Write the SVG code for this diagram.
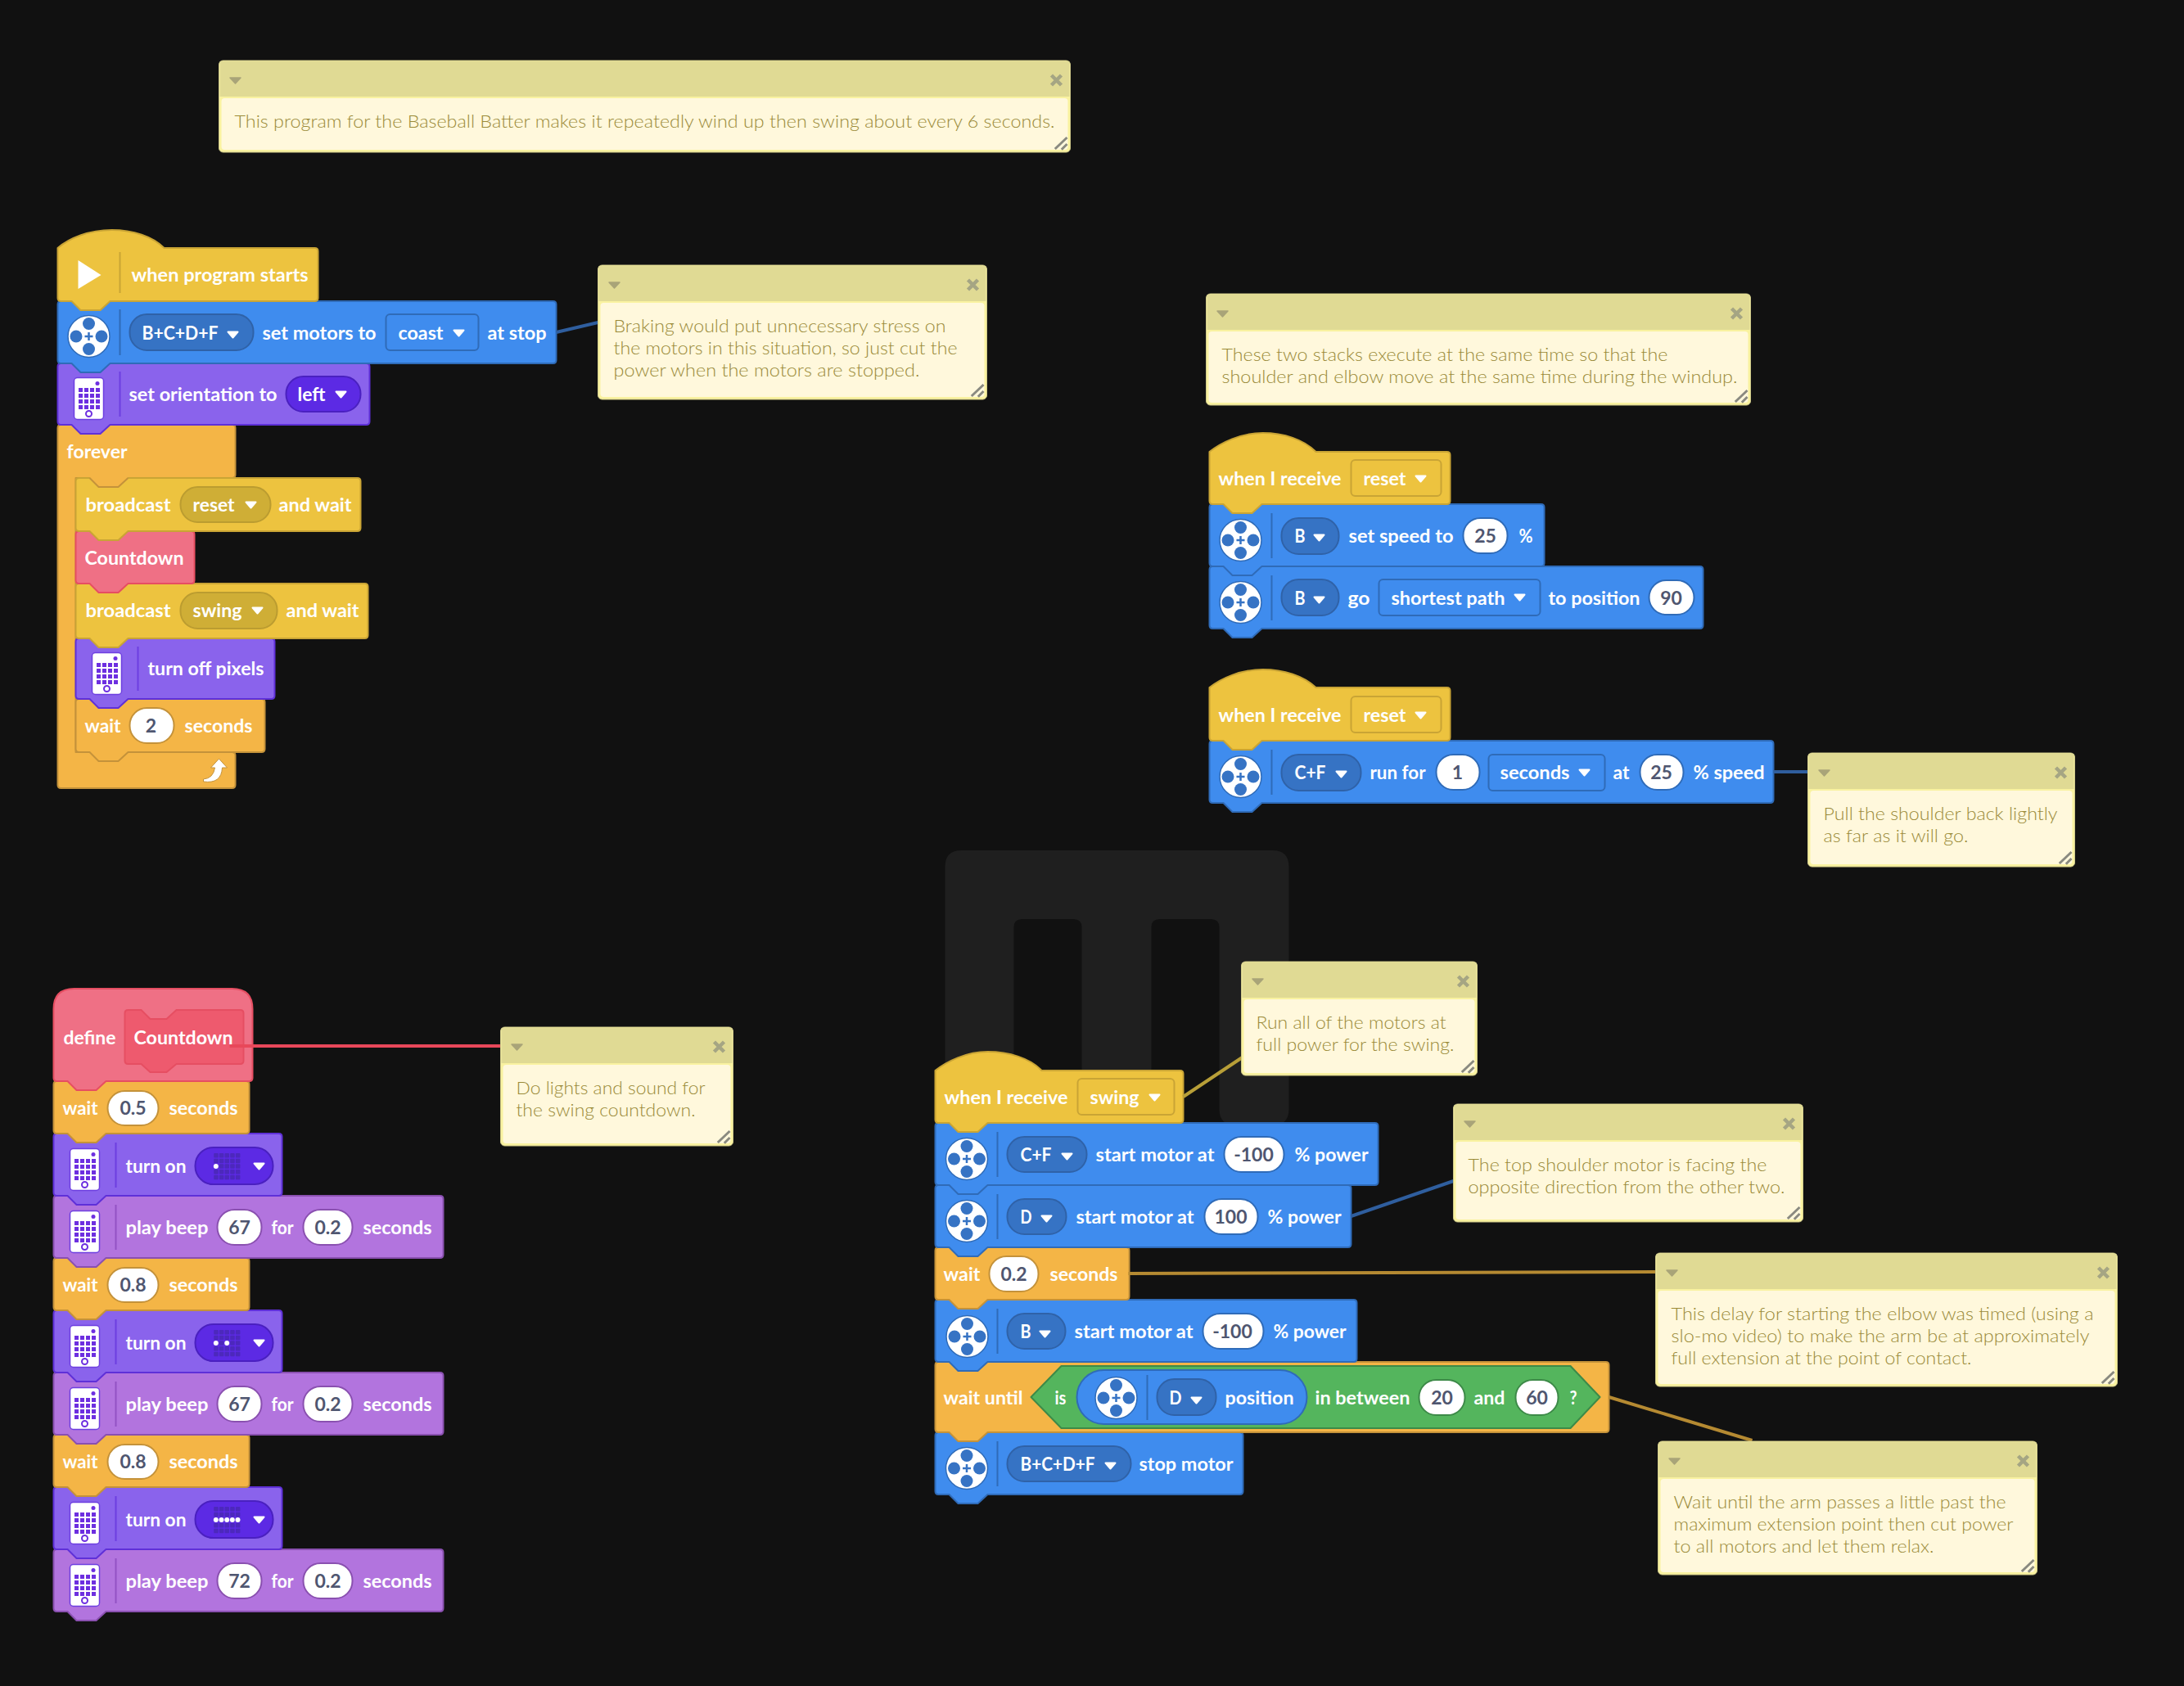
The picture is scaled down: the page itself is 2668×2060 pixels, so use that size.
<svg xmlns="http://www.w3.org/2000/svg" width="2668" height="2060" viewBox="0 0 2668 2060">
<style>
text{font-family:Lato,"Noto Sans",sans-serif}
.t{font-size:23.5px;font-weight:700;fill:#fff}
.v{font-size:23px;font-weight:700;fill:#4f5670;text-anchor:middle}
.n{font-size:22px;font-weight:300;fill:#9a8a38}
.y,.o,.b,.m,.l,.r{stroke-width:2;stroke-linejoin:round}
.y{fill:#edc33f;stroke:#c9a435}
.o{fill:#f4b546;stroke:#c4923a}
.b{fill:#3f8cee;stroke:#2f6bb8}
.m{fill:#8a63ec;stroke:#5f30d8}
.l{fill:#b274de;stroke:#8a50b0}
.r{fill:#ef7085;stroke:#e64e62}
.pb{fill:#3673c4;stroke:#2f62a8;stroke-width:2}
.ddb{fill:#3f8cee;stroke:#2f6bb8;stroke-width:2}
.py{fill:#cfae36;stroke:#bb9c30;stroke-width:2}
.ddy{fill:#edc33f;stroke:#c9a435;stroke-width:2}
.pm{fill:#5c2ae4;stroke:#4a20c0;stroke-width:2}
.w{fill:#fff;stroke-width:2}
.wo{stroke:#c4923a}.wb{stroke:#2f6bb8}.wl{stroke:#8a50b0}.wg{stroke:#3d8a48}.wy{stroke:#c9a435}
.dv{stroke-width:2;fill:none}
.dvb{stroke:#2f6bb8}.dvm{stroke:#6d3fe0}.dvl{stroke:#9252c4}.dvy{stroke:#c9a435}
.cn{fill:none;stroke-width:4}
.nb{fill:#f9f2a0;stroke:#cfc98a;stroke-width:1}
.nh{fill:#e0da94}
.nc{fill:#fff8dc}
</style>
<defs>
<path id="c" d="M-6 -3.5H6L0 3.5z" fill="#fff" stroke="#fff" stroke-width="2" stroke-linejoin="round"/>
<g id="motor"><circle r="25.5" fill="#fff" stroke="#2f6bb8" stroke-width="1.5"/><g fill="#3673c4"><circle cy="-15.5" r="7.5"/><circle cy="15.5" r="7.5"/><circle cx="-15.5" r="7.5"/><circle cx="15.5" r="7.5"/></g><path d="M-5 0H5M0 -5V5" stroke="#3673c4" stroke-width="2.5"/></g>
<g id="phone"><rect x="-18" y="-25.5" width="36" height="51" rx="4" fill="#fff" stroke="#6d3fe0" stroke-width="1.5"/><g fill="#6d2fe0"><rect x="-12.5" y="-13" width="5" height="5"/><rect x="-5.5" y="-13" width="5" height="5"/><rect x="1.5" y="-13" width="5" height="5"/><rect x="8.500" y="-13" width="5" height="5"/><rect x="-12.5" y="-6" width="5" height="5"/><rect x="-5.5" y="-6" width="5" height="5"/><rect x="1.5" y="-6" width="5" height="5"/><rect x="8.500" y="-6" width="5" height="5"/><rect x="-12.5" y="1" width="5" height="5"/><rect x="-5.5" y="1" width="5" height="5"/><rect x="1.5" y="1" width="5" height="5"/><rect x="8.500" y="1" width="5" height="5"/><rect x="-12.5" y="8" width="5" height="5"/><rect x="-5.5" y="8" width="5" height="5"/><rect x="1.5" y="8" width="5" height="5"/><rect x="8.500" y="8" width="5" height="5"/><circle cx="10.500" cy="-18.500" r="2.5"/></g><circle cy="18.500" r="3.500" fill="none" stroke="#6d2fe0" stroke-width="2"/></g>
<g id="mx" fill="#4c28bc"><rect x="-16" y="-16" width="5.500" height="5.500" rx="1"/><rect x="-9.300" y="-16" width="5.500" height="5.500" rx="1"/><rect x="-2.700" y="-16" width="5.500" height="5.500" rx="1"/><rect x="4" y="-16" width="5.500" height="5.500" rx="1"/><rect x="10.700" y="-16" width="5.500" height="5.500" rx="1"/><rect x="-16" y="-9.300" width="5.500" height="5.500" rx="1"/><rect x="-9.300" y="-9.300" width="5.500" height="5.500" rx="1"/><rect x="-2.700" y="-9.300" width="5.500" height="5.500" rx="1"/><rect x="4" y="-9.300" width="5.500" height="5.500" rx="1"/><rect x="10.700" y="-9.300" width="5.500" height="5.500" rx="1"/><rect x="-16" y="-2.700" width="5.500" height="5.500" rx="1"/><rect x="-9.300" y="-2.700" width="5.500" height="5.500" rx="1"/><rect x="-2.700" y="-2.700" width="5.500" height="5.500" rx="1"/><rect x="4" y="-2.700" width="5.500" height="5.500" rx="1"/><rect x="10.700" y="-2.700" width="5.500" height="5.500" rx="1"/><rect x="-16" y="4" width="5.500" height="5.500" rx="1"/><rect x="-9.300" y="4" width="5.500" height="5.500" rx="1"/><rect x="-2.700" y="4" width="5.500" height="5.500" rx="1"/><rect x="4" y="4" width="5.500" height="5.500" rx="1"/><rect x="10.700" y="4" width="5.500" height="5.500" rx="1"/><rect x="-16" y="10.700" width="5.500" height="5.500" rx="1"/><rect x="-9.300" y="10.700" width="5.500" height="5.500" rx="1"/><rect x="-2.700" y="10.700" width="5.500" height="5.500" rx="1"/><rect x="4" y="10.700" width="5.500" height="5.500" rx="1"/><rect x="10.700" y="10.700" width="5.500" height="5.500" rx="1"/></g>
<path id="nca" d="M-6.500 -3H6.500L0 4z" fill="#a9a478" stroke="#a9a478" stroke-width="1.500" stroke-linejoin="round"/>
<path id="nx" d="M-6 -6L6 6M6 -6L-6 6" stroke="#a5a583" stroke-width="4.500" fill="none"/>
<path id="nr" d="M-18.700 -4L-4 -18M-10.700 -3.300L-4 -10" stroke="#8a8a80" stroke-width="3" fill="none"/>
</defs>
<rect width="2668" height="2060" fill="#111"/>
<g transform="translate(0.5 1)">
<path id="ghost" fill="#1f1f1f" d="M1174 1038H1554q20 0 20 20V1354q0 20-20 20H1509q-20 0-20-20V1132q0-10-10-10H1416q-10 0-10 10V1354q0 20-20 20H1341q-20 0-20-20V1132q0-10-10-10H1248q-10 0-10 10V1354q0 20-20 20H1174q-20 0-20-20V1058q0-20 20-20z"/>

<g id="stack-start">
<g id="forever"><path class="o" d="M74 518H283q4 0 4 4V579q0 4-4 4H156l-12 11h-24l-11-11H92V918H283q4 0 4 4V958q0 4-4 4H74q-4 0-4-4V522q0-4 4-4z"/>
<path d="M248 951q12-1 14-14h-5l10-11 10 11h-6q-1 20-23 17z" fill="#fff" stroke="#c4923a" stroke-width="1"/>
<text class="t" x="81" y="559" textLength="74" lengthAdjust="spacingAndGlyphs">forever</text></g>
<g id="wait-2"><path class="o" d="M96 853H319q4 0 4 4V914q0 4-4 4H156l-12 11h-24l-11-11H96q-4 0-4-4V857q0-4 4-4z"/>
<text class="t" x="103" y="894" textLength="44" lengthAdjust="spacingAndGlyphs">wait</text><rect class="w wo" x="158" y="864" width="54" height="43" rx="21"/><text class="v" x="184" y="894">2</text><text class="t" x="225" y="894" textLength="83" lengthAdjust="spacingAndGlyphs">seconds</text></g>
<g id="turn-off"><path class="m" d="M96 779H331q4 0 4 4V849q0 4-4 4H156l-12 11h-24l-11-11H96q-4 0-4-4V783q0-4 4-4z"/>
<use href="#phone" x="130" y="822"/><path class="dv dvm" d="M168 789V843"/><text class="t" x="180" y="824" textLength="142" lengthAdjust="spacingAndGlyphs">turn off pixels</text></g>
<g id="broadcast-swing"><path class="y" d="M96 712H445q4 0 4 4V775q0 4-4 4H156l-12 11h-24l-11-11H96q-4 0-4-4V716q0-4 4-4z"/>
<text class="t" x="104" y="753" textLength="104" lengthAdjust="spacingAndGlyphs">broadcast</text><rect class="py" x="220" y="723" width="118" height="44" rx="21"/><text class="t" x="235" y="753" textLength="60" lengthAdjust="spacingAndGlyphs">swing</text><use href="#c" x="314" y="745"/><text class="t" x="349" y="753" textLength="89" lengthAdjust="spacingAndGlyphs">and wait</text></g>
<g id="countdown-call"><path class="r" d="M96 648H233q4 0 4 4V708q0 4-4 4H156l-12 11h-24l-11-11H96q-4 0-4-4V652q0-4 4-4z"/>
<text class="t" x="103" y="689" textLength="121" lengthAdjust="spacingAndGlyphs">Countdown</text></g>
<g id="broadcast-reset"><path class="y" d="M96 583H436q4 0 4 4V644q0 4-4 4H156l-12 11h-24l-11-11H96q-4 0-4-4V587q0-4 4-4z"/>
<text class="t" x="104" y="624" textLength="104" lengthAdjust="spacingAndGlyphs">broadcast</text><rect class="py" x="220" y="594" width="110" height="43" rx="21"/><text class="t" x="235" y="624" textLength="51" lengthAdjust="spacingAndGlyphs">reset</text><use href="#c" x="306" y="616"/><text class="t" x="340" y="624" textLength="89" lengthAdjust="spacingAndGlyphs">and wait</text></g>
<path d="M109 582h47l-12 12h-24z" fill="#f4b546"/><path d="M109 583l11 11h24l12-11" fill="none" stroke="#c4923a" stroke-width="2"/>
<g id="orientation"><path class="m" d="M74 443H447q4 0 4 4V514q0 4-4 4H134l-12 11h-24l-11-11H74q-4 0-4-4V447q0-4 4-4z"/>
<use href="#phone" x="108" y="486"/><path class="dv dvm" d="M146 453V508"/><text class="t" x="157" y="489" textLength="181" lengthAdjust="spacingAndGlyphs">set orientation to</text><rect class="pm" x="349" y="459" width="91" height="43" rx="21"/><text class="t" x="363" y="489" textLength="34" lengthAdjust="spacingAndGlyphs">left</text><use href="#c" x="416" y="481"/></g>
<g id="set-motors"><path class="b" d="M74 367H675q4 0 4 4V439q0 4-4 4H134l-12 11h-24l-11-11H74q-4 0-4-4V371q0-4 4-4z"/>
<use href="#motor" x="108" y="410"/><path class="dv dvb" d="M146 377V433"/><rect class="pb" x="158" y="383" width="151" height="44" rx="21"/><text class="t" x="173" y="414" textLength="93" lengthAdjust="spacingAndGlyphs">B+C+D+F</text><use href="#c" x="284" y="408"/><text class="t" x="320" y="414" textLength="139" lengthAdjust="spacingAndGlyphs">set motors to</text><rect class="ddb" x="471" y="383" width="113" height="44" rx="5"/><text class="t" x="486" y="414" textLength="55" lengthAdjust="spacingAndGlyphs">coast</text><use href="#c" x="560" y="406"/><text class="t" x="595" y="414" textLength="72" lengthAdjust="spacingAndGlyphs">at stop</text></g>
<g id="program-starts"><path class="y" d="M70 302C84 290 108 280 136 280C162 280 186 288 200 302H384q4 0 4 4V363q0 4-4 4H134l-12 11h-24l-11-11H74q-4 0-4-4z"/>
<path d="M95 317L123 335L95 352z" fill="#fff"/><path class="dv dvy" d="M146 307V357"/><text class="t" x="160" y="343" textLength="216" lengthAdjust="spacingAndGlyphs">when program starts</text></g>
</g>

<g id="stack-define">
<g id="beep-3"><path class="l" d="M69 1892H537q4 0 4 4V1964q0 4-4 4H129l-12 11h-24l-11-11H69q-4 0-4-4V1896q0-4 4-4z"/>
<use href="#phone" x="103" y="1936"/><path class="dv dvl" d="M141 1903V1958"/><text class="t" x="153" y="1939" textLength="101" lengthAdjust="spacingAndGlyphs">play beep</text><rect class="w wl" x="265" y="1909" width="54" height="43" rx="21"/><text class="v" x="292" y="1939">72</text><text class="t" x="331" y="1939" textLength="27" lengthAdjust="spacingAndGlyphs">for</text><rect class="w wl" x="370" y="1909" width="60" height="43" rx="21"/><text class="v" x="400" y="1939">0.2</text><text class="t" x="443" y="1939" textLength="84" lengthAdjust="spacingAndGlyphs">seconds</text></g>
<g id="turn-on-3"><path class="m" d="M69 1816H340q4 0 4 4V1888q0 4-4 4H129l-12 11h-24l-11-11H69q-4 0-4-4V1820q0-4 4-4z"/>
<use href="#phone" x="103" y="1860"/><path class="dv dvm" d="M141 1827V1882"/><text class="t" x="153" y="1864" textLength="74" lengthAdjust="spacingAndGlyphs">turn on</text><rect class="pm" x="238" y="1833" width="95" height="45" rx="22"/><use href="#mx" x="276.700" y="1856"/><g fill="#fff"><circle cx="263.300" cy="1856" r="3"/><circle cx="270" cy="1856" r="3"/><circle cx="276.700" cy="1856" r="3"/><circle cx="283.300" cy="1856" r="3"/><circle cx="290" cy="1856" r="3"/></g><use href="#c" x="316" y="1856"/></g>
<g id="wait-3"><path class="o" d="M69 1752H300q4 0 4 4V1812q0 4-4 4H129l-12 11h-24l-11-11H69q-4 0-4-4V1756q0-4 4-4z"/>
<text class="t" x="76" y="1793" textLength="43" lengthAdjust="spacingAndGlyphs">wait</text><rect class="w wo" x="131" y="1764" width="62" height="42" rx="21"/><text class="v" x="162" y="1793">0.8</text><text class="t" x="206" y="1793" textLength="84" lengthAdjust="spacingAndGlyphs">seconds</text></g>
<g id="beep-2"><path class="l" d="M69 1676H537q4 0 4 4V1748q0 4-4 4H129l-12 11h-24l-11-11H69q-4 0-4-4V1680q0-4 4-4z"/>
<use href="#phone" x="103" y="1720"/><path class="dv dvl" d="M141 1687V1742"/><text class="t" x="153" y="1723" textLength="101" lengthAdjust="spacingAndGlyphs">play beep</text><rect class="w wl" x="265" y="1693" width="54" height="43" rx="21"/><text class="v" x="292" y="1723">67</text><text class="t" x="331" y="1723" textLength="27" lengthAdjust="spacingAndGlyphs">for</text><rect class="w wl" x="370" y="1693" width="60" height="43" rx="21"/><text class="v" x="400" y="1723">0.2</text><text class="t" x="443" y="1723" textLength="84" lengthAdjust="spacingAndGlyphs">seconds</text></g>
<g id="turn-on-2"><path class="m" d="M69 1600H340q4 0 4 4V1672q0 4-4 4H129l-12 11h-24l-11-11H69q-4 0-4-4V1604q0-4 4-4z"/>
<use href="#phone" x="103" y="1644"/><path class="dv dvm" d="M141 1611V1666"/><text class="t" x="153" y="1648" textLength="74" lengthAdjust="spacingAndGlyphs">turn on</text><rect class="pm" x="238" y="1617" width="95" height="45" rx="22"/><use href="#mx" x="276.700" y="1640"/><g fill="#fff"><circle cx="263.300" cy="1640" r="3"/><circle cx="276.700" cy="1640" r="3"/></g><use href="#c" x="316" y="1640"/></g>
<g id="wait-2b"><path class="o" d="M69 1536H300q4 0 4 4V1596q0 4-4 4H129l-12 11h-24l-11-11H69q-4 0-4-4V1540q0-4 4-4z"/>
<text class="t" x="76" y="1577" textLength="43" lengthAdjust="spacingAndGlyphs">wait</text><rect class="w wo" x="131" y="1548" width="62" height="42" rx="21"/><text class="v" x="162" y="1577">0.8</text><text class="t" x="206" y="1577" textLength="84" lengthAdjust="spacingAndGlyphs">seconds</text></g>
<g id="beep-1"><path class="l" d="M69 1460H537q4 0 4 4V1532q0 4-4 4H129l-12 11h-24l-11-11H69q-4 0-4-4V1464q0-4 4-4z"/>
<use href="#phone" x="103" y="1504"/><path class="dv dvl" d="M141 1471V1526"/><text class="t" x="153" y="1507" textLength="101" lengthAdjust="spacingAndGlyphs">play beep</text><rect class="w wl" x="265" y="1477" width="54" height="43" rx="21"/><text class="v" x="292" y="1507">67</text><text class="t" x="331" y="1507" textLength="27" lengthAdjust="spacingAndGlyphs">for</text><rect class="w wl" x="370" y="1477" width="60" height="43" rx="21"/><text class="v" x="400" y="1507">0.2</text><text class="t" x="443" y="1507" textLength="84" lengthAdjust="spacingAndGlyphs">seconds</text></g>
<g id="turn-on-1"><path class="m" d="M69 1384H340q4 0 4 4V1456q0 4-4 4H129l-12 11h-24l-11-11H69q-4 0-4-4V1388q0-4 4-4z"/>
<use href="#phone" x="103" y="1428"/><path class="dv dvm" d="M141 1395V1450"/><text class="t" x="153" y="1432" textLength="74" lengthAdjust="spacingAndGlyphs">turn on</text><rect class="pm" x="238" y="1401" width="95" height="45" rx="22"/><use href="#mx" x="276.700" y="1424"/><circle cx="263.300" cy="1424" r="3" fill="#fff"/><use href="#c" x="316" y="1424"/></g>
<g id="wait-1"><path class="o" d="M69 1320H300q4 0 4 4V1380q0 4-4 4H129l-12 11h-24l-11-11H69q-4 0-4-4V1324q0-4 4-4z"/>
<text class="t" x="76" y="1361" textLength="43" lengthAdjust="spacingAndGlyphs">wait</text><rect class="w wo" x="131" y="1332" width="62" height="42" rx="21"/><text class="v" x="162" y="1361">0.5</text><text class="t" x="206" y="1361" textLength="84" lengthAdjust="spacingAndGlyphs">seconds</text></g>
<g id="define"><path class="r" d="M65 1316V1232Q65 1207 90 1207H283Q308 1207 308 1232V1316q0 4-4 4H129l-12 11h-24l-11-11H69q-4 0-4-4z"/>
<path d="M156 1233H172l11 11h20l12-11H293q4 0 4 4V1295q0 4-4 4H215l-12 10h-20l-11-10H156q-4 0-4-4V1237q0-4 4-4z" fill="#ee5a6e" stroke="#e64e62" stroke-width="2"/>
<text class="t" x="77" y="1275" textLength="64" lengthAdjust="spacingAndGlyphs">define</text><text class="t" x="163" y="1275" textLength="121" lengthAdjust="spacingAndGlyphs">Countdown</text></g>
</g>

<g id="stack-reset-1">
<g id="go-position"><path class="b" d="M1481 691H2076q4 0 4 4V763q0 4-4 4H1541l-12 11h-24l-11-11H1481q-4 0-4-4V695q0-4 4-4z"/>
<use href="#motor" x="1515" y="735"/><path class="dv dvb" d="M1553 702V757"/><rect class="pb" x="1565" y="707" width="70" height="44" rx="21"/><text class="t" x="1581" y="738" textLength="13" lengthAdjust="spacingAndGlyphs">B</text><use href="#c" x="1611" y="732"/><text class="t" x="1646" y="738" textLength="27" lengthAdjust="spacingAndGlyphs">go</text><rect class="ddb" x="1684" y="707" width="197" height="44" rx="5"/><text class="t" x="1699" y="738" textLength="139" lengthAdjust="spacingAndGlyphs">shortest path</text><use href="#c" x="1856" y="729"/><text class="t" x="1891" y="738" textLength="112" lengthAdjust="spacingAndGlyphs">to position</text><rect class="w wb" x="2014" y="708" width="55" height="42" rx="21"/><text class="v" x="2041" y="738">90</text></g>
<g id="set-speed"><path class="b" d="M1481 615H1882q4 0 4 4V687q0 4-4 4H1541l-12 11h-24l-11-11H1481q-4 0-4-4V619q0-4 4-4z"/>
<use href="#motor" x="1515" y="659"/><path class="dv dvb" d="M1553 626V681"/><rect class="pb" x="1565" y="632" width="70" height="44" rx="21"/><text class="t" x="1581" y="662" textLength="13" lengthAdjust="spacingAndGlyphs">B</text><use href="#c" x="1611" y="656"/><text class="t" x="1647" y="662" textLength="128" lengthAdjust="spacingAndGlyphs">set speed to</text><rect class="w wb" x="1787" y="632" width="54" height="43" rx="21"/><text class="v" x="1814" y="662">25</text><text class="t" x="1855" y="662" textLength="17" lengthAdjust="spacingAndGlyphs">%</text></g>
<g id="recv-reset-1"><path class="y" d="M1477 551C1491 540 1515 528 1542 528C1568 528 1592 536 1607 551H1767q4 0 4 4V611q0 4-4 4H1541l-12 11h-24l-11-11H1481q-4 0-4-4z"/>
<text class="t" x="1488" y="592" textLength="150" lengthAdjust="spacingAndGlyphs">when I receive</text><rect class="ddy" x="1650" y="561" width="110" height="44" rx="5"/><text class="t" x="1665" y="592" textLength="52" lengthAdjust="spacingAndGlyphs">reset</text><use href="#c" x="1735" y="584"/></g>
</g>

<g id="stack-reset-2">
<g id="run-for"><path class="b" d="M1481 904H2162q4 0 4 4V976q0 4-4 4H1541l-12 11h-24l-11-11H1481q-4 0-4-4V908q0-4 4-4z"/>
<use href="#motor" x="1515" y="948"/><path class="dv dvb" d="M1553 915V970"/><rect class="pb" x="1565" y="921" width="97" height="44" rx="21"/><text class="t" x="1581" y="951" textLength="38" lengthAdjust="spacingAndGlyphs">C+F</text><use href="#c" x="1638" y="945"/><text class="t" x="1673" y="951" textLength="68" lengthAdjust="spacingAndGlyphs">run for</text><rect class="w wb" x="1754" y="921" width="53" height="43" rx="21"/><text class="v" x="1780" y="951">1</text><rect class="ddb" x="1818" y="921" width="142" height="44" rx="5"/><text class="t" x="1832" y="951" textLength="85" lengthAdjust="spacingAndGlyphs">seconds</text><use href="#c" x="1935" y="943"/><text class="t" x="1970" y="951" textLength="20" lengthAdjust="spacingAndGlyphs">at</text><rect class="w wb" x="2003" y="921" width="53" height="43" rx="21"/><text class="v" x="2029" y="951">25</text><text class="t" x="2068" y="951" textLength="87" lengthAdjust="spacingAndGlyphs">% speed</text></g>
<g id="recv-reset-2"><path class="y" d="M1477 839C1491 828 1515 817 1542 817C1568 817 1592 825 1607 839H1767q4 0 4 4V900q0 4-4 4H1541l-12 11h-24l-11-11H1481q-4 0-4-4z"/>
<text class="t" x="1488" y="881" textLength="150" lengthAdjust="spacingAndGlyphs">when I receive</text><rect class="ddy" x="1650" y="850" width="110" height="44" rx="5"/><text class="t" x="1665" y="881" textLength="52" lengthAdjust="spacingAndGlyphs">reset</text><use href="#c" x="1735" y="873"/></g>
</g>

<g id="stack-swing">
<g id="stop-motor"><path class="b" d="M1146 1749H1514q4 0 4 4V1821q0 4-4 4H1206l-12 11h-24l-11-11H1146q-4 0-4-4V1753q0-4 4-4z"/>
<use href="#motor" x="1180.500" y="1793"/><path class="dv dvb" d="M1218 1760V1815"/><rect class="pb" x="1230" y="1766" width="151" height="43" rx="21"/><text class="t" x="1246" y="1796" textLength="91" lengthAdjust="spacingAndGlyphs">B+C+D+F</text><use href="#c" x="1356" y="1790"/><text class="t" x="1391" y="1796" textLength="115" lengthAdjust="spacingAndGlyphs">stop motor</text></g>
<g id="wait-until"><path class="o" d="M1146 1663H1961q4 0 4 4V1745q0 4-4 4H1206l-12 11h-24l-11-11H1146q-4 0-4-4V1667q0-4 4-4z"/>
<path d="M1296 1668H1918L1954 1706L1918 1744H1296L1259 1706z" fill="#54b55d" stroke="#3d8a48" stroke-width="2" stroke-linejoin="round"/>
<rect x="1315" y="1673" width="281" height="66" rx="33" fill="#3f8cee" stroke="#2f6bb8" stroke-width="2"/>
<use href="#motor" x="1363" y="1707"/><path class="dv dvb" d="M1401 1679V1734"/><rect class="pb" x="1413" y="1684" width="72" height="44" rx="21"/>
<text class="t" x="1152" y="1715" textLength="97" lengthAdjust="spacingAndGlyphs">wait until</text><text class="t" x="1288" y="1715" textLength="14" lengthAdjust="spacingAndGlyphs">is</text><text class="t" x="1428" y="1715" textLength="15" lengthAdjust="spacingAndGlyphs">D</text><use href="#c" x="1461" y="1710"/><text class="t" x="1496" y="1715" textLength="84" lengthAdjust="spacingAndGlyphs">position</text><text class="t" x="1606" y="1715" textLength="116" lengthAdjust="spacingAndGlyphs">in between</text><rect class="w wg" x="1733" y="1685" width="56" height="43" rx="21"/><text class="v" x="1761" y="1715">20</text><text class="t" x="1800" y="1715" textLength="38" lengthAdjust="spacingAndGlyphs">and</text><rect class="w wg" x="1851" y="1685" width="52" height="43" rx="21"/><text class="v" x="1877" y="1715">60</text><text class="t" x="1917" y="1715" textLength="9" lengthAdjust="spacingAndGlyphs">?</text></g>
<g id="start-b"><path class="b" d="M1146 1587H1653q4 0 4 4V1659q0 4-4 4H1206l-12 11h-24l-11-11H1146q-4 0-4-4V1591q0-4 4-4z"/>
<use href="#motor" x="1181" y="1632"/><path class="dv dvb" d="M1218 1598V1653"/><rect class="pb" x="1230" y="1604" width="71" height="43" rx="21"/><text class="t" x="1246" y="1634" textLength="13" lengthAdjust="spacingAndGlyphs">B</text><use href="#c" x="1276" y="1629"/><text class="t" x="1312" y="1634" textLength="145" lengthAdjust="spacingAndGlyphs">start motor at</text><rect class="w wb" x="1469" y="1604" width="74" height="43" rx="21"/><text class="v" x="1505" y="1634">-100</text><text class="t" x="1555" y="1634" textLength="89" lengthAdjust="spacingAndGlyphs">% power</text></g>
<g id="wait-02"><path class="o" d="M1146 1523H1375q4 0 4 4V1583q0 4-4 4H1206l-12 11h-24l-11-11H1146q-4 0-4-4V1527q0-4 4-4z"/>
<text class="t" x="1152" y="1564" textLength="45" lengthAdjust="spacingAndGlyphs">wait</text><rect class="w wo" x="1208" y="1534" width="60" height="43" rx="21"/><text class="v" x="1238" y="1564">0.2</text><text class="t" x="1282" y="1564" textLength="83" lengthAdjust="spacingAndGlyphs">seconds</text></g>
<g id="start-d"><path class="b" d="M1146 1447H1646q4 0 4 4V1519q0 4-4 4H1206l-12 11h-24l-11-11H1146q-4 0-4-4V1451q0-4 4-4z"/>
<use href="#motor" x="1180.500" y="1491"/><path class="dv dvb" d="M1218 1458V1513"/><rect class="pb" x="1230" y="1464" width="72" height="43" rx="21"/><text class="t" x="1246" y="1494" textLength="14" lengthAdjust="spacingAndGlyphs">D</text><use href="#c" x="1278" y="1488"/><text class="t" x="1314" y="1494" textLength="144" lengthAdjust="spacingAndGlyphs">start motor at</text><rect class="w wb" x="1471" y="1464" width="65" height="43" rx="21"/><text class="v" x="1503" y="1494">100</text><text class="t" x="1548" y="1494" textLength="90" lengthAdjust="spacingAndGlyphs">% power</text></g>
<g id="start-cf"><path class="b" d="M1146 1371H1679q4 0 4 4V1443q0 4-4 4H1206l-12 11h-24l-11-11H1146q-4 0-4-4V1375q0-4 4-4z"/>
<use href="#motor" x="1180.500" y="1415"/><path class="dv dvb" d="M1218 1382V1437"/><rect class="pb" x="1230" y="1388" width="97" height="43" rx="21"/><text class="t" x="1246" y="1418" textLength="38" lengthAdjust="spacingAndGlyphs">C+F</text><use href="#c" x="1303" y="1412"/><text class="t" x="1338" y="1418" textLength="145" lengthAdjust="spacingAndGlyphs">start motor at</text><rect class="w wb" x="1495" y="1388" width="73" height="43" rx="21"/><text class="v" x="1531" y="1418">-100</text><text class="t" x="1581" y="1418" textLength="90" lengthAdjust="spacingAndGlyphs">% power</text></g>
<g id="recv-swing"><path class="y" d="M1142 1307C1156 1296 1180 1284 1206 1284C1232 1284 1258 1292 1272 1307H1441q4 0 4 4V1367q0 4-4 4H1206l-12 11h-24l-11-11H1146q-4 0-4-4z"/>
<text class="t" x="1153" y="1348" textLength="151" lengthAdjust="spacingAndGlyphs">when I receive</text><rect class="ddy" x="1316" y="1317" width="118" height="44" rx="5"/><text class="t" x="1331" y="1348" textLength="60" lengthAdjust="spacingAndGlyphs">swing</text><use href="#c" x="1410" y="1340"/></g>
</g>

<g id="connectors">
<path class="cn" stroke="#2f5e9e" d="M679 405L730 393"/>
<path class="cn" stroke="#e8485a" d="M280 1277H611"/>
<path class="cn" stroke="#b89f38" d="M1445 1339L1517 1291"/>
<path class="cn" stroke="#2f5e9e" d="M1650 1485L1775 1442"/>
<path class="cn" stroke="#b58a32" d="M1378 1555L2022 1553"/>
<path class="cn" stroke="#b58a32" d="M1965 1706L2140 1759"/>
<path class="cn" stroke="#2f5e9e" d="M2166 942H2208"/>
</g>

<g id="note-1"><rect class="nb" x="267" y="73" width="1040" height="112" rx="5"/><rect class="nh" x="268" y="74" width="1038" height="43"/><rect class="nc" x="270" y="119" width="1034" height="63" rx="4"/><use href="#nca" x="287" y="97"/><use href="#nx" x="1290" y="97"/><use href="#nr" x="1307" y="185"/>
<text class="n" x="286" y="155" textLength="1002" lengthAdjust="spacingAndGlyphs">This program for the Baseball Batter makes it repeatedly wind up then swing about every 6 seconds.</text></g>
<g id="note-2"><rect class="nb" x="730" y="323" width="475" height="164" rx="5"/><rect class="nh" x="731" y="324" width="473" height="43"/><rect class="nc" x="733" y="369" width="469" height="115" rx="4"/><use href="#nca" x="750" y="347"/><use href="#nx" x="1188" y="347"/><use href="#nr" x="1205" y="487"/>
<text class="n" x="749" y="405" textLength="406" lengthAdjust="spacingAndGlyphs">Braking would put unnecessary stress on</text><text class="n" x="749" y="432" textLength="420" lengthAdjust="spacingAndGlyphs">the motors in this situation, so just cut the</text><text class="n" x="749" y="459" textLength="374" lengthAdjust="spacingAndGlyphs">power when the motors are stopped.</text></g>
<g id="note-3"><rect class="nb" x="1473" y="358" width="665" height="136" rx="5"/><rect class="nh" x="1474" y="359" width="663" height="43"/><rect class="nc" x="1476" y="404" width="659" height="87" rx="4"/><use href="#nca" x="1493" y="382"/><use href="#nx" x="2121" y="382"/><use href="#nr" x="2138" y="494"/>
<text class="n" x="1492" y="440" textLength="545" lengthAdjust="spacingAndGlyphs">These two stacks execute at the same time so that the</text><text class="n" x="1492" y="467" textLength="630" lengthAdjust="spacingAndGlyphs">shoulder and elbow move at the same time during the windup.</text></g>
<g id="note-4"><rect class="nb" x="2208" y="919" width="326" height="139" rx="5"/><rect class="nh" x="2209" y="920" width="324" height="43"/><rect class="nc" x="2211" y="965" width="320" height="90" rx="4"/><use href="#nca" x="2228" y="943"/><use href="#nx" x="2517" y="943"/><use href="#nr" x="2534" y="1058"/>
<text class="n" x="2227" y="1001" textLength="286" lengthAdjust="spacingAndGlyphs">Pull the shoulder back lightly</text><text class="n" x="2227" y="1028" textLength="177" lengthAdjust="spacingAndGlyphs">as far as it will go.</text></g>
<g id="note-5"><rect class="nb" x="611" y="1254" width="284" height="145" rx="5"/><rect class="nh" x="612" y="1255" width="282" height="43"/><rect class="nc" x="614" y="1300" width="278" height="96" rx="4"/><use href="#nca" x="631" y="1278"/><use href="#nx" x="878" y="1278"/><use href="#nr" x="895" y="1399"/>
<text class="n" x="630" y="1336" textLength="231" lengthAdjust="spacingAndGlyphs">Do lights and sound for</text><text class="n" x="630" y="1363" textLength="219" lengthAdjust="spacingAndGlyphs">the swing countdown.</text></g>
<g id="note-6"><rect class="nb" x="1516" y="1174" width="288" height="139" rx="5"/><rect class="nh" x="1517" y="1175" width="286" height="43"/><rect class="nc" x="1519" y="1220" width="282" height="90" rx="4"/><use href="#nca" x="1536" y="1198"/><use href="#nx" x="1787" y="1198"/><use href="#nr" x="1804" y="1313"/>
<text class="n" x="1534" y="1256" textLength="232" lengthAdjust="spacingAndGlyphs">Run all of the motors at</text><text class="n" x="1534" y="1283" textLength="242" lengthAdjust="spacingAndGlyphs">full power for the swing.</text></g>
<g id="note-7"><rect class="nb" x="1775" y="1348" width="427" height="144" rx="5"/><rect class="nh" x="1776" y="1349" width="425" height="43"/><rect class="nc" x="1778" y="1394" width="421" height="95" rx="4"/><use href="#nca" x="1795" y="1372"/><use href="#nx" x="2185" y="1372"/><use href="#nr" x="2202" y="1492"/>
<text class="n" x="1793" y="1430" textLength="365" lengthAdjust="spacingAndGlyphs">The top shoulder motor is facing the</text><text class="n" x="1793" y="1457" textLength="387" lengthAdjust="spacingAndGlyphs">opposite direction from the other two.</text></g>
<g id="note-8"><rect class="nb" x="2022" y="1530" width="564" height="163" rx="5"/><rect class="nh" x="2023" y="1531" width="562" height="43"/><rect class="nc" x="2025" y="1576" width="558" height="114" rx="4"/><use href="#nca" x="2042" y="1554"/><use href="#nx" x="2569" y="1554"/><use href="#nr" x="2586" y="1693"/>
<text class="n" x="2041" y="1612" textLength="516" lengthAdjust="spacingAndGlyphs">This delay for starting the elbow was timed (using a</text><text class="n" x="2041" y="1639" textLength="511" lengthAdjust="spacingAndGlyphs">slo-mo video) to make the arm be at approximately</text><text class="n" x="2041" y="1666" textLength="367" lengthAdjust="spacingAndGlyphs">full extension at the point of contact.</text></g>
<g id="note-9"><rect class="nb" x="2025" y="1760" width="463" height="163" rx="5"/><rect class="nh" x="2026" y="1761" width="461" height="43"/><rect class="nc" x="2028" y="1806" width="457" height="114" rx="4"/><use href="#nca" x="2045" y="1784"/><use href="#nx" x="2471" y="1784"/><use href="#nr" x="2488" y="1923"/>
<text class="n" x="2044" y="1842" textLength="406" lengthAdjust="spacingAndGlyphs">Wait until the arm passes a little past the</text><text class="n" x="2044" y="1869" textLength="415" lengthAdjust="spacingAndGlyphs">maximum extension point then cut power</text><text class="n" x="2044" y="1896" textLength="318" lengthAdjust="spacingAndGlyphs">to all motors and let them relax.</text></g>
</g>
</svg>
